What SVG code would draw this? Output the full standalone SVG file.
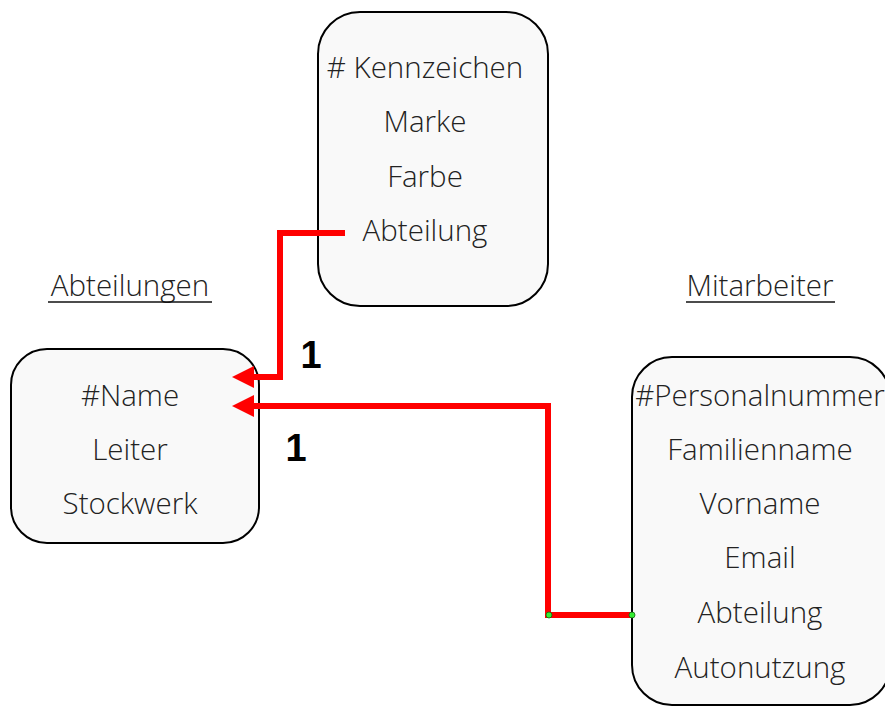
<svg xmlns="http://www.w3.org/2000/svg" width="885" height="707" viewBox="0 0 885 707">
<defs>
<style>
.box{fill:#f9f9f9;stroke:#000;stroke-width:2}
.t{font-family:"Open Sans","Liberation Sans",sans-serif;font-weight:300;font-size:29.5px;fill:#222;text-anchor:middle}
.card{font-family:"Liberation Sans",Arial,sans-serif;font-weight:bold;font-size:38px;fill:#000;text-anchor:middle}
.conn{fill:none;stroke:#ff0000;stroke-width:6;stroke-linejoin:miter}
.dot{fill:#33ee33;stroke:#116611;stroke-width:0.8}
.ul{stroke:#111;stroke-width:1.6}
</style>
</defs>
<rect width="885" height="707" fill="#fff"/>

<g id="fahrzeuge">
<rect class="box" x="318" y="12" width="230" height="294" rx="42"/>
<text class="t" x="425" y="78"># Kennzeichen</text>
<text class="t" x="425" y="132">Marke</text>
<text class="t" x="425" y="187">Farbe</text>
<text class="t" x="425" y="241">Abteilung</text>
</g>

<g id="abteilungen">
<text class="t" x="130" y="296">Abteilungen</text>
<line class="ul" x1="48" y1="302" x2="212" y2="302"/>
<rect class="box" x="11" y="349" width="248" height="194" rx="36"/>
<text class="t" x="130" y="406">#Name</text>
<text class="t" x="130" y="460">Leiter</text>
<text class="t" x="130" y="514">Stockwerk</text>
</g>

<g id="mitarbeiter">
<text class="t" x="760" y="296">Mitarbeiter</text>
<line class="ul" x1="686" y1="302" x2="835" y2="302"/>
<rect class="box" x="632" y="357" width="258" height="348" rx="40"/>
<text class="t" x="760" y="406">#Personalnummer</text>
<text class="t" x="760" y="460">Familienname</text>
<text class="t" x="760" y="514">Vorname</text>
<text class="t" x="760" y="568">Email</text>
<text class="t" x="760" y="623">Abteilung</text>
<text class="t" x="760" y="678">Autonutzung</text>
</g>

<g id="connectors">
<polyline class="conn" points="345,233 280,233 280,377 254,377"/>
<path d="M254,366 L232,377 L254,388 z" fill="#ff0000"/>
<polyline class="conn" points="632,615 548,615 548,406 254,406"/>
<path d="M254,395 L232,406 L254,417 z" fill="#ff0000"/>
<circle class="dot" cx="549" cy="615" r="3"/>
<circle class="dot" cx="632" cy="615" r="3"/>
<text class="card" x="311" y="368">1</text>
<text class="card" x="296" y="461">1</text>
</g>
</svg>
